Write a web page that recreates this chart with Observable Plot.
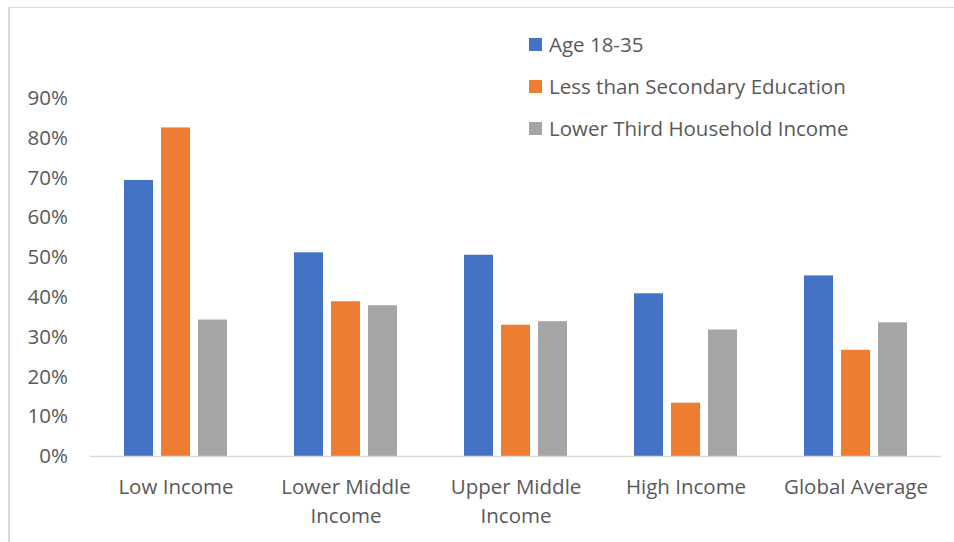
<!DOCTYPE html>
<html>
<head>
<meta charset="utf-8">
<script src="https://cdn.jsdelivr.net/npm/d3@7"></script>
<script src="https://cdn.jsdelivr.net/npm/@observablehq/plot@0.6"></script>
<style>
  html, body { margin: 0; padding: 0; background: #fff; }
  #wrap { position: relative; width: 954px; height: 542px; overflow: hidden; font-family: "Open Sans", sans-serif; }
  #frame { position: absolute; left: 8px; top: 7px; width: 960px; height: 560px; border-left: 2px solid #d9d9d9; border-top: 1px solid #d9d9d9; box-sizing: border-box; }
  #chart { position: absolute; left: 0; top: 0; }
  #legend { position: absolute; left: 529px; top: 30px; color: #595959; font-size: 20.5px; }
  #legend .row { display: flex; align-items: center; height: 28px; margin-bottom: 14px; }
  #legend .sw { width: 13px; height: 13px; margin-right: 7px; }
</style>
</head>
<body>
<div id="wrap">
  <div id="frame"></div>
  <div id="chart"></div>
  <div id="legend"></div>
</div>
<script>
// Income groups along the x axis
const categories = ["Low Income", "Lower Middle Income", "Upper Middle Income", "High Income", "Global Average"];
const categoryLabels = ["Low Income", "Lower Middle\nIncome", "Upper Middle\nIncome", "High Income", "Global Average"];

// Series shown in each group
const series = ["Age 18-35", "Less than Secondary Education", "Lower Third Household Income"];
const seriesColors = ["#4472C4", "#ED7D31", "#A5A5A5"];

// Share of each population group, by income group
const age18to35 = [0.694, 0.512, 0.506, 0.409, 0.454];
const lessThanSecondary = [0.826, 0.389, 0.330, 0.134, 0.267];
const lowerThirdIncome = [0.343, 0.379, 0.339, 0.318, 0.336];

// Y axis ticks
const yTicks = [0, 0.1, 0.2, 0.3, 0.4, 0.5, 0.6, 0.7, 0.8, 0.9];

const seriesValues = [age18to35, lessThanSecondary, lowerThirdIncome];
const rows = categories.flatMap((c, i) =>
  series.map((s, j) => ({category: c, series: s, value: seriesValues[j][i]}))
);
const labelOf = new Map(categories.map((c, i) => [c, categoryLabels[i]]));

// Group bands: inner gap is twice the outer gap so the baseline segments join up
const fxInner = 0.289;
const fxOuter = fxInner / 2;
const plotWidth = 954, marginLeft = 90, marginRight = 14;
const groupStep = (plotWidth - marginLeft - marginRight) / categories.length;
const outerGap = groupStep * fxOuter;
const joinInset = -(outerGap + 0.5);

const chart = Plot.plot({
  width: plotWidth,
  height: 542,
  marginLeft,
  marginRight,
  marginTop: 98,
  marginBottom: 86,
  style: {fontFamily: "Open Sans, sans-serif", fontSize: "20.5px", color: "#595959", background: "transparent"},
  fx: {domain: categories, paddingInner: fxInner, paddingOuter: fxOuter, label: null},
  x: {domain: series, padding: 0.213, axis: null},
  y: {domain: [0, 0.9], label: null},
  color: {domain: series, range: seriesColors},
  marks: [
    Plot.barY(rows, {fx: "category", x: "series", y: "value", fill: "series"}),
    Plot.ruleY([0], {stroke: "#d9d9d9", strokeWidth: 1.5, insetLeft: joinInset, insetRight: joinInset}),
    // the y axis hangs off the first group's band, so pad past the outer gap
    Plot.axisY({ticks: yTicks, tickFormat: d3.format(".0%"), tickSize: 0, tickPadding: 23 + outerGap, label: null, fontSize: 20.5}),
    Plot.axisFx({anchor: "bottom", tickSize: 0, tickPadding: 17, label: null, fontSize: 20.5, lineHeight: 1.41,
      tickFormat: (d) => labelOf.get(d)})
  ]
});
document.getElementById("chart").appendChild(chart);

// Legend
const legend = d3.select("#legend");
series.forEach((s, i) => {
  const row = legend.append("div").attr("class", "row");
  row.append("div").attr("class", "sw").style("background", seriesColors[i]);
  row.append("span").text(s);
});
</script>
</body>
</html>
